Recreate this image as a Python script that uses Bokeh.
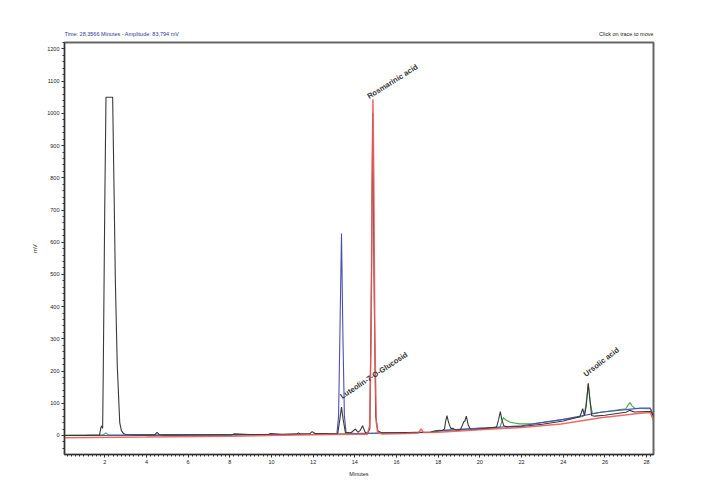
from bokeh.plotting import figure
from bokeh.layouts import column
from bokeh.models import Range1d, SingleIntervalTicker, ColumnDataSource
from bokeh.core.properties import value
from bokeh.embed import file_html
from bokeh.resources import INLINE

# ---- data (time in minutes, signal in mV) ----
black_t = [0.0, 1.0, 1.75, 1.82, 1.86, 1.9, 1.93, 2.0, 2.06, 2.38, 2.45, 2.51, 2.6, 2.72, 2.8,
           2.9, 3.0, 3.5, 4.0, 4.4, 4.51, 4.62, 4.8, 6.0, 7.0, 8.1, 8.2, 9.0, 9.85, 9.95, 10.5,
           11.2, 11.3, 11.4, 11.85, 11.95, 12.1, 12.5, 13.0, 13.18, 13.28, 13.36, 13.44, 13.55,
           13.8, 14.03, 14.15, 14.25, 14.37, 14.5, 14.6, 14.72, 14.8, 14.86, 14.92, 15.0, 15.1,
           15.3, 16.0, 17.0, 17.6, 17.8, 18.2, 18.3, 18.36, 18.42, 18.5, 18.6, 18.72, 18.85,
           19.05, 19.15, 19.22, 19.28, 19.35, 19.43, 19.55, 19.7, 20.3, 20.8, 20.9, 20.98,
           21.05, 21.15, 21.3, 22.0, 23.0, 24.0, 24.8, 24.93, 25.02, 25.1, 25.2, 25.28, 25.36,
           25.5, 26.0, 27.0, 27.2, 27.4, 28.0, 28.2, 28.33]
black_mv = [0, 0, 1, 25, 30, 22, 200, 700, 1050, 1050, 750, 480, 220, 40, 15,
            6, 3, 2, 2, 2, 10, 3, 2, 2, 2, 2, 5, 3, 3, 6, 4,
            5, 8, 5, 6, 12, 6, 6, 5, 6, 50, 88, 50, 8,
            8, 20, 10, 15, 30, 10, 6, 20, 500, 1000, 500, 60, 15,
            8, 8, 10, 10, 14, 15, 20, 45, 62, 40, 22, 22, 16,
            16, 30, 42, 45, 60, 35, 18, 18, 22, 26, 50, 74,
            50, 30, 26, 28, 35, 45, 58, 83, 62, 90, 162, 110, 62,
            60, 63, 72, 78, 73, 74, 74, 60]

blue_t = [0.0, 6.0, 10.0, 12.0, 13.0, 13.14, 13.22, 13.28, 13.36, 13.43, 13.5, 13.58, 14.0,
          15.0, 17.0, 17.8, 18.0, 20.0, 22.0, 24.0, 25.8, 27.7, 28.18, 28.33]
blue_mv = [0, 1, 3, 4, 5, 5, 60, 300, 627, 300, 60, 10, 6,
           7, 9, 10, 14, 22, 30, 50, 72, 85, 85, 62]

red_t = [0.0, 4.0, 8.0, 12.0, 14.0, 14.6, 14.71, 14.78, 14.83, 14.87, 14.91, 14.96, 15.03,
         15.1, 15.3, 16.5, 17.05, 17.18, 17.3, 18.0, 20.0, 22.0, 23.9, 25.8, 27.7, 28.18, 28.33]
red_mv = [-7, -5, -2, 2, 4, 4, 30, 300, 800, 1044, 800, 300, 40,
          8, 5, 6, 8, 20, 9, 10, 18, 25, 36, 55, 69, 71, 46]

green_t = [0.0, 1.9, 2.05, 2.2, 4.0, 6.0, 8.0, 10.0, 12.0, 14.0, 16.0, 17.7, 17.9, 20.0,
           20.95, 21.12, 21.25, 21.45, 21.9, 22.5, 23.9, 24.9, 25.0, 25.1, 25.2, 25.3, 25.4,
           25.8, 27.0, 27.12, 27.2, 27.3, 27.45, 28.18, 28.33]
green_mv = [1, 1, 8, 1, 1, 2, 2, 3, 4, 6, 8, 10, 15, 23,
            24, 55, 48, 41, 36, 36, 49, 58, 62, 100, 160, 100, 68,
            72, 83, 95, 102, 92, 84, 83, 46]

peak_names = ["Luteolin-7-O-Glucosid", "Rosmarinic acid", "Ursolic acid"]
peak_t = [13.45, 14.74, 25.15]
peak_mv = [108, 1039, 177]

header_texts = ["Time:  28,3566 Minutes - Amplitude:  83,794 mV", "Click on trace to move"]

FONT = "Liberation Sans"
W, H = 714, 501
HEAD_H = 38

# ---- header strip (status texts above the plot); its frame aligns with the plot frame ----
head = figure(width=W, height=HEAD_H, output_backend="svg", toolbar_location=None,
              x_range=Range1d(0, 1), y_range=Range1d(0, HEAD_H),
              min_border_left=64, min_border_right=61, min_border_top=0, min_border_bottom=0)
head.axis.visible = False
head.grid.visible = False
head.outline_line_color = None
head.title.visible = False
hsrc = ColumnDataSource(dict(x=[0, 1], y=[HEAD_H - 33, HEAD_H - 33], text=header_texts,
                             color=["#333399", "#222222"], align=["left", "right"]))
head.text(x="x", y="y", text="text", text_color="color", text_align="align", source=hsrc,
          text_font=value(FONT), text_font_size="5.5px", text_baseline="middle")

# ---- main chromatogram ----
p = figure(width=W, height=H - HEAD_H, output_backend="svg", toolbar_location=None,
           x_range=Range1d(0.07, 28.33), y_range=Range1d(-59, 1220),
           min_border_left=64, min_border_right=61, min_border_top=42 - HEAD_H,
           min_border_bottom=47)
p.title.visible = False
p.xgrid.visible = False
p.ygrid.visible = False
p.outline_line_color = "#666666"
p.outline_line_width = 2

p.xaxis.ticker = SingleIntervalTicker(interval=2, num_minor_ticks=10)
p.yaxis.ticker = SingleIntervalTicker(interval=100, num_minor_ticks=5)
p.xaxis.axis_label = "Minutes"
p.yaxis.axis_label = "mV"
for ax in (p.xaxis, p.yaxis):
    ax.axis_line_color = "#333333"
    ax.major_tick_line_color = "#333333"
    ax.minor_tick_line_color = "#333333"
    ax.major_tick_out = 3
    ax.major_tick_in = 0
    ax.minor_tick_out = 2
    ax.minor_tick_in = 0
    ax.major_label_text_font_size = "5.5px"
    ax.major_label_text_font = FONT
    ax.major_label_text_color = "#222222"
    ax.axis_label_text_font_size = "5.5px"
    ax.axis_label_text_font = FONT
    ax.axis_label_text_font_style = "normal"
    ax.axis_label_text_color = "#222222"
    ax.major_label_standoff = 2
    ax.axis_label_standoff = 4
p.yaxis.axis_label_standoff = 6

p.line(green_t, green_mv, line_color="#3fae49", line_width=1.1)
p.line(blue_t, blue_mv, line_color="#4d4db8", line_width=1.1)
p.line(black_t, black_mv, line_color="#3a3a3a", line_width=1.1)
p.line(red_t, red_mv, line_color="#f05a5a", line_width=1.5, line_alpha=0.9)

src = ColumnDataSource(dict(x=peak_t, y=peak_mv, text=peak_names, angle=[0.58, 0.56, 0.66]))
p.text(x="x", y="y", text="text", angle="angle", source=src, text_font=value(FONT),
       text_font_size="7.5px", text_font_style="bold", text_color="#333333",
       text_align="left", text_baseline="bottom")

open("out.html", "w").write(file_html(column(head, p, spacing=0), INLINE))
